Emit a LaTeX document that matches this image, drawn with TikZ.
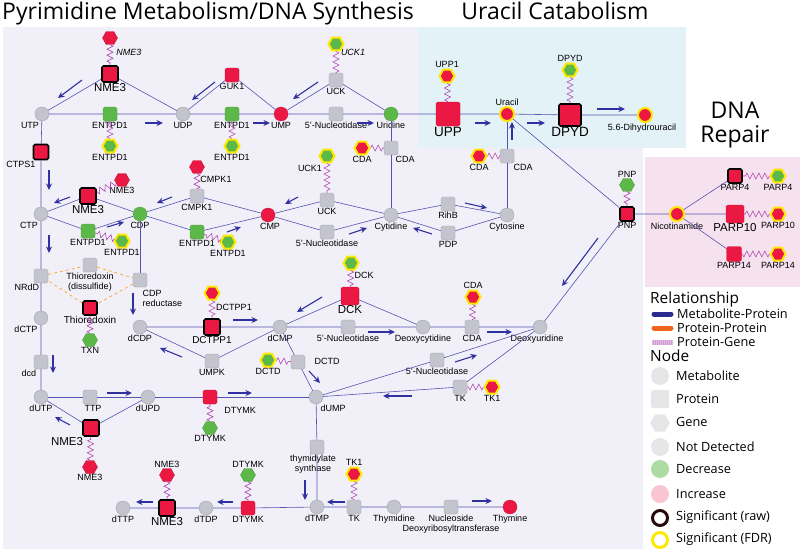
\documentclass[tikz,border=0pt]{standalone}
\usepackage{fontspec}
\setmainfont{Liberation Sans}
\newfontfamily\headfont{Open Sans}
\usetikzlibrary{shapes.geometric,arrows.meta,decorations.pathmorphing}
\definecolor{hitred}{RGB}{234,24,66}
\definecolor{lowgreen}{RGB}{92,184,72}
\definecolor{nagray}{RGB}{196,196,206}
\definecolor{edgeblue}{RGB}{84,84,178}
\definecolor{arrowblue}{RGB}{48,48,160}
\definecolor{genepink}{RGB}{176,70,176}
\definecolor{fdryellow}{RGB}{255,232,0}
\definecolor{bgpyr}{RGB}{241,240,248}
\definecolor{bgura}{RGB}{226,242,246}
\definecolor{bgrep}{RGB}{246,226,238}
\definecolor{legorange}{RGB}{240,100,30}
\definecolor{legfill}{RGB}{230,230,232}
\newcommand\lblsize{\fontsize{9}{10}\selectfont}
\tikzset{
  lbl/.style={font=\lblsize, inner sep=0.5pt, align=center},
  midlbl/.style={font=\fontsize{10}{11}\selectfont, inner sep=0.5pt},
  biglbl/.style={font=\fontsize{11.5}{12}\selectfont, inner sep=0.5pt},
  hugelbl/.style={font=\fontsize{13.5}{14}\selectfont, inner sep=0.5pt},
  ttl/.style={font=\headfont\fontsize{23}{25}\selectfont, inner sep=0pt},
  legh/.style={font=\headfont\fontsize{15.4}{16}\selectfont, inner sep=0pt},
  legt/.style={font=\headfont\fontsize{12.7}{13}\selectfont, inner sep=0pt},
  met/.style={circle, minimum size=14pt, inner sep=0pt, fill=nagray, draw=nagray!80!black, line width=0.3pt, label distance=3pt},
  prot/.style={rectangle, rounded corners=1.5pt, minimum size=14pt, inner sep=0pt, fill=nagray, draw=nagray!80!black, line width=0.3pt, label distance=3pt},
  gene/.style={regular polygon, regular polygon sides=6, minimum size=15pt, inner sep=0pt, fill=nagray, draw=none, label distance=2pt},
  hi/.style={fill=hitred, draw=hitred!85!black},
  lo/.style={fill=lowgreen, draw=lowgreen!85!black},
  raw/.style={draw=black, line width=1.6pt},
  fdr/.style={draw=fdryellow, line width=2pt},
  link/.style={draw=edgeblue, line width=0.6pt},
  flow/.style={draw=arrowblue, line width=1.1pt, -{Stealth[length=6.5pt,width=6pt]}},
  coded/.style={draw=genepink, line width=0.6pt, decorate, decoration={zigzag, segment length=6pt, amplitude=3pt}},
  pair/.style={draw=orange!80!yellow, dashed, line width=0.6pt},
}

\begin{document}
\begin{tikzpicture}[x=1pt,y=-1pt]
\useasboundingbox (0,0) rectangle (800,552);
\fill[bgpyr] (3,27) -- (418,27) -- (418,148) -- (643,148) -- (643,549) -- (3,549) -- cycle;
\fill[bgura] (418,27) rectangle (686,148);
\fill[bgrep] (645,157) rectangle (800,287);

\node[ttl,anchor=base west] (ttlpyr) at (2,19) {Pyrimidine Metabolism/DNA Synthesis};
\node[ttl,anchor=base] (ttlura) at (555,19) {Uracil Catabolism};
\node[ttl,anchor=base] (ttlrep) at (735,118) {DNA};
\node[ttl,anchor=base] (ttlrepb) at (735,142) {Repair};

\node[met,label={[lbl,xshift=-12pt]below:UTP}] (utp) at (42,114) {};
\node[prot,hi,raw,minimum size=16pt,label={[biglbl]below:NME3}] (nmeA) at (110,74) {};
\node[gene,hi] (gnmeA) at (110,38) {};
\node[lbl,font=\lblsize\itshape] (tnmeA) at (129,52) {NME3};
\node[prot,lo,label={[lbl]below:ENTPD1}] (entA) at (110,114) {};
\node[gene,lo,fdr,label={[lbl]below:ENTPD1}] (gentA) at (110,146) {};
\node[met,label={[lbl]below:UDP}] (udp) at (183,114) {};
\node[prot,hi,label={[lbl]below:GUK1}] (guk) at (232,75) {};
\node[prot,lo,label={[lbl]below:ENTPD1}] (entB) at (232,114) {};
\node[gene,lo,fdr,label={[lbl]below:ENTPD1}] (gentB) at (232,146) {};
\node[met,hi,label={[lbl]below:UMP}] (ump) at (281,114) {};
\node[prot,label={[lbl]below:UCK}] (uckA) at (336,80) {};
\node[gene,lo,fdr] (guckA) at (336,44) {};
\node[lbl,font=\lblsize\itshape] (tuckA) at (353,52) {UCK1};
\node[prot,label={[lbl]below:5'-Nucleotidase}] (ntA) at (336,114) {};
\node[met,lo,label={[lbl]below:Uridine}] (urd) at (391,114) {};
\node[prot,hi,minimum size=24pt,label={[hugelbl]below:UPP}] (upp) at (448,114) {};
\node[gene,hi,fdr,label={[lbl]above:UPP1}] (gupp) at (447,76) {};
\node[met,hi,fdr,label={[lbl]above:Uracil}] (ura) at (507,114) {};
\node[prot,hi,raw,minimum size=22pt,label={[hugelbl]below:DPYD}] (dpyd) at (570,115) {};
\node[gene,lo,fdr,label={[lbl]above:DPYD}] (gdpyd) at (570,70) {};
\node[met,hi,fdr,label={[lbl,xshift=-3pt]below:5.6-Dihydrouracil}] (dhu) at (645,115) {};

\node[prot,label={[lbl,xshift=14pt]below:CDA}] (cdaA) at (391,148) {};
\node[gene,hi,fdr,label={[lbl]below:CDA}] (gcdaA) at (362,148) {};
\node[prot,label={[lbl,xshift=16pt]below:CDA}] (cdaB) at (507,156) {};
\node[gene,hi,fdr,label={[lbl]below:CDA}] (gcdaB) at (479,156) {};
\node[met,hi,label={[lbl,xshift=2pt]below:CMP}] (cmp) at (268,215) {};
\node[prot,label={[lbl]below:UCK}] (uckB) at (327,200) {};
\node[gene,lo,fdr] (guckB) at (327,156) {};
\node[lbl] (tuckB) at (310,168) {UCK1};
\node[prot,label={[lbl]below:5'-Nucleotidase}] (ntB) at (327,232) {};
\node[met,label={[lbl]below:Cytidine}] (cyd) at (391,215) {};
\node[prot,label={[lbl]below:RihB}] (rihb) at (448,204) {};
\node[prot,label={[lbl]below:PDP}] (pdp) at (448,233) {};
\node[met,label={[lbl]below:Cytosine}] (cyt) at (507,215) {};

\node[prot,hi,raw,minimum size=15pt,label={[lbl,xshift=-20pt]below:CTPS1}] (ctps) at (41,152) {};
\node[met,label={[lbl,xshift=-12pt]below:CTP}] (ctp) at (41,214) {};
\node[prot,hi,raw,minimum size=16pt,label={[biglbl]below:NME3}] (nmeB) at (88,196) {};
\node[gene,hi,label={[lbl]below:NME3}] (gnmeB) at (122,180) {};
\node[prot,lo,label={[lbl]below:ENTPD1}] (entC) at (88,231) {};
\node[gene,lo,fdr,label={[lbl]below:ENTPD1}] (gentC) at (122,241) {};
\node[met,lo,label={[lbl]below:CDP}] (cdp) at (140,214) {};
\node[prot,label={[lbl]below:CMPK1}] (cmpk) at (197,196) {};
\node[gene,hi] (gcmpk) at (197,167) {};
\node[lbl] (tcmpk) at (216,179) {CMPK1};
\node[prot,lo,label={[lbl]below:ENTPD1}] (entD) at (197,232) {};
\node[gene,lo,fdr,label={[lbl]below:ENTPD1}] (gentD) at (228,242) {};

\node[prot,label={[lbl,xshift=-14pt]below:NRdD}] (nrdd) at (41,276) {};
\node[prot,label={[lbl]below:Thioredoxin\\(dissulfide)}] (trxd) at (90,265) {};
\node[prot] (cdpr) at (140,280) {};
\node[lbl,anchor=north west,align=left] (tcdpr) at (142,290) {CDP\\reductase};
\node[prot,hi,raw,label={[midlbl]below:Thioredoxin}] (trx) at (90,308) {};
\node[gene,lo,label={[lbl]below:TXN}] (gtrx) at (90,340) {};
\node[met,label={[lbl,xshift=-15pt]below:dCTP}] (dctp) at (41,318) {};
\node[prot,label={[lbl,xshift=-12pt]below:dcd}] (dcd) at (41,362) {};
\node[met,label={[lbl]below:dUTP}] (dutp) at (41,397) {};
\node[prot,label={[lbl,xshift=3pt]below:TTP}] (ttp) at (90,397) {};
\node[met,label={[lbl]below:dUPD}] (dupd) at (148,397) {};
\node[prot,hi,raw,minimum size=16pt,label={[biglbl,xshift=-24pt]below:NME3}] (nmeC) at (91,428) {};
\node[gene,hi,label={[lbl]below:NME3}] (gnmeC) at (90,467) {};
\node[met,label={[lbl]below:dCDP}] (dcdp) at (140,327) {};
\node[prot,hi,raw,minimum size=16pt,label={[midlbl]below:DCTPP1}] (dctpp) at (212,327) {};
\node[gene,hi,fdr] (gdctpp) at (212,293) {};
\node[lbl] (tdctpp) at (234,307) {DCTPP1};
\node[prot,label={[lbl]below:UMPK}] (umpk) at (212,361) {};
\node[met,label={[lbl]below:dCMP}] (dcmp) at (280,327) {};
\node[prot,hi,minimum size=18pt,label={[biglbl]below:DCK}] (dck) at (350,296) {};
\node[gene,lo,fdr] (gdck) at (351,263) {};
\node[lbl] (tdck) at (364,275) {DCK};
\node[prot,label={[lbl]below:5'-Nucleotidase}] (ntC) at (348,327) {};
\node[met,label={[lbl]below:Deoxycytidine}] (dcyd) at (423,327) {};
\node[prot,label={[lbl]below:CDA}] (cdaC) at (472,327) {};
\node[gene,hi,fdr,label={[lbl]above:CDA}] (gcdaC) at (473,297) {};
\node[met,label={[lbl,xshift=-3pt]below:Deoxyuridine}] (dud) at (540,327) {};
\node[prot] (dctd) at (298,362) {};
\node[lbl] (tdctd) at (327,361) {DCTD};
\node[gene,lo,fdr,label={[lbl]below:DCTD}] (gdctd) at (268,360) {};
\node[prot,hi] (dtymkA) at (210,397) {};
\node[lbl] (tdtymkA) at (240,410) {DTYMK};
\node[gene,lo,label={[lbl]below:DTYMK}] (gdtymkA) at (210,428) {};
\node[met,label={[lbl,xshift=17pt]below:dUMP}] (dump) at (316,397) {};
\node[prot,label={[lbl]below:5'-Nucleotidase}] (ntD) at (437,360) {};
\node[prot,label={[lbl]below:TK}] (tkA) at (460,387) {};
\node[gene,hi,fdr,label={[lbl]below:TK1}] (gtkA) at (492,387) {};
\node[prot,label={[lbl,xshift=-4pt]below:thymidylate\\synthase}] (tms) at (317,447) {};
\node[met,label={[lbl]below:dTMP}] (dtmp) at (317,507) {};
\node[prot,label={[lbl]below:TK}] (tkB) at (354,507) {};
\node[gene,hi,fdr,label={[lbl]above:TK1}] (gtkB) at (354,474) {};
\node[met,label={[lbl]below:Thymidine}] (thd) at (394,507) {};
\node[prot,label={[lbl]below:Nucleoside\\Deoxyribosyltransferase}] (ndt) at (451,507) {};
\node[met,hi,label={[lbl]below:Thymine}] (thy) at (510,507) {};
\node[met,label={[lbl]below:dTTP}] (dttp) at (123,508) {};
\node[prot,hi,raw,minimum size=16pt,label={[biglbl]below:NME3}] (nmeD) at (167,508) {};
\node[gene,hi,label={[lbl]above:NME3}] (gnmeD) at (167,475) {};
\node[met,label={[lbl]below:dTDP}] (dtdp) at (206,508) {};
\node[prot,hi,label={[lbl]below:DTYMK}] (dtymkB) at (248,508) {};
\node[gene,lo,label={[lbl]above:DTYMK}] (gdtymkB) at (248,475) {};

\node[prot,hi,raw,label={[lbl]below:PNP}] (pnp) at (627,214) {};
\node[gene,lo,label={[lbl]above:PNP}] (gpnp) at (627,185) {};
\node[met,hi,fdr,label={[lbl]below:Nicotinamide}] (nam) at (677,214) {};
\node[prot,hi,raw,label={[lbl]below:PARP4}] (parpA) at (735,176) {};
\node[gene,lo,fdr,label={[lbl]below:PARP4}] (gparpA) at (778,176) {};
\node[prot,hi,minimum size=18pt,label={[biglbl]below:PARP10}] (parpB) at (735,214) {};
\node[gene,hi,fdr,label={[lbl]below:PARP10}] (gparpB) at (778,214) {};
\node[prot,hi,minimum size=15pt,label={[lbl]below:PARP14}] (parpC) at (734,254) {};
\node[gene,hi,fdr,label={[lbl]below:PARP14}] (gparpC) at (778,254) {};

\draw[link] (utp) -- (entA) -- (udp) -- (entB) -- (ump) -- (ntA) -- (urd) -- (upp) -- (ura) -- (dpyd) -- (dhu);
\draw[link] (utp) -- (nmeA) -- (udp) -- (guk) -- (ump) -- (uckA) -- (urd);
\draw[link] (utp) -- (ctps) -- (ctp) -- (nrdd) -- (dctp) -- (dcd) -- (dutp);
\draw[link] (ctp) -- (nmeB) -- (cdp) -- (cmpk) -- (cmp) -- (uckB) -- (cyd) -- (rihb) -- (cyt);
\draw[link] (ctp) -- (entC) -- (cdp) -- (entD) -- (cmp) -- (ntB) -- (cyd) -- (pdp) -- (cyt);
\draw[link] (urd) -- (cdaA) -- (cyd);
\draw[link] (ura) -- (cdaB) -- (cyt);
\draw[link] (cdp) -- (cdpr);
\draw[link] (ura) -- (pnp) -- (nam) -- (parpB);
\draw[link] (nam) -- (parpA);
\draw[link] (nam) -- (parpC);
\draw[link] (dud) -- (pnp);
\draw[link] (dcdp) -- (dctpp) -- (dcmp) -- (dck) -- (dcyd);
\draw[link] (dcdp) -- (umpk) -- (dcmp) -- (ntC) -- (dcyd) -- (cdaC) -- (dud);
\draw[link] (dcmp) -- (dctd) -- (dump);
\draw[link] (dutp) -- (ttp) -- (dupd) -- (dtymkA) -- (dump);
\draw[link] (dutp) -- (nmeC) -- (dupd);
\draw[link] (dump) -- (ntD) -- (dud);
\draw[link] (dump) -- (tkA) -- (dud);
\draw[link] (dump) -- (tms) -- (dtmp) -- (tkB) -- (thd) -- (ndt) -- (thy);
\draw[link] (dttp) -- (nmeD) -- (dtdp) -- (dtymkB) -- (dtmp);
\draw[pair] (nrdd) -- (trxd) -- (cdpr) -- (trx) -- (nrdd);

\draw[coded] (gnmeA) -- (nmeA);
\draw[coded] (gentA) -- (entA);
\draw[coded] (gentB) -- (entB);
\draw[coded] (guckA) -- (uckA);
\draw[coded] (gupp) -- (upp);
\draw[coded] (gdpyd) -- (dpyd);
\draw[coded] (gcdaA) -- (cdaA);
\draw[coded] (gcdaB) -- (cdaB);
\draw[coded] (guckB) -- (uckB);
\draw[coded] (gnmeB) -- (nmeB);
\draw[coded] (gentC) -- (entC);
\draw[coded] (gcmpk) -- (cmpk);
\draw[coded] (gentD) -- (entD);
\draw[coded] (gtrx) -- (trx);
\draw[coded] (gdctpp) -- (dctpp);
\draw[coded] (gdck) -- (dck);
\draw[coded] (gcdaC) -- (cdaC);
\draw[coded] (gdctd) -- (dctd);
\draw[coded] (gdtymkA) -- (dtymkA);
\draw[coded] (gnmeC) -- (nmeC);
\draw[coded] (gtkA) -- (tkA);
\draw[coded] (gtkB) -- (tkB);
\draw[coded] (gnmeD) -- (nmeD);
\draw[coded] (gdtymkB) -- (dtymkB);
\draw[coded] (gpnp) -- (pnp);
\draw[coded] (gparpA) -- (parpA);
\draw[coded] (gparpB) -- (parpB);
\draw[coded] (gparpC) -- (parpC);

\draw[flow] (82,80) -- (58,98);
\draw[flow] (145,123) -- (163,123);
\draw[flow] (215,82) -- (192,100);
\draw[flow] (253,123) -- (270,123);
\draw[flow] (318,82) -- (293,99);
\draw[flow] (357,123) -- (374,123);
\draw[flow] (475,123) -- (491,123);
\draw[flow] (527,123) -- (545,123);
\draw[flow] (512,140) -- (512,122);
\draw[flow] (597,109) -- (625,109);
\draw[flow] (49,170) -- (49,190);
\draw[flow] (70,197) -- (54,203);
\draw[flow] (107,227) -- (124,222);
\draw[flow] (172,197) -- (157,203);
\draw[flow] (227,232) -- (241,227);
\draw[flow] (298,197) -- (285,204);
\draw[flow] (349,234) -- (367,228);
\draw[flow] (465,203) -- (487,208);
\draw[flow] (432,234) -- (413,228);
\draw[flow] (49,235) -- (49,253);
\draw[flow] (133,293) -- (133,315);
\draw[flow] (53,355) -- (53,373);
\draw[flow] (107,393) -- (132,393);
\draw[flow] (233,320) -- (258,320);
\draw[flow] (182,357) -- (160,348);
\draw[flow] (70,425) -- (55,417);
\draw[flow] (228,393) -- (252,393);
\draw[flow] (322,297) -- (297,312);
\draw[flow] (368,332) -- (395,332);
\draw[flow] (487,332) -- (512,332);
\draw[flow] (309,371) -- (320,383);
\draw[flow] (455,362) -- (477,355);
\draw[flow] (412,396) -- (383,396);
\draw[flow] (305,480) -- (305,500);
\draw[flow] (345,502) -- (327,502);
\draw[flow] (472,501) -- (492,501);
\draw[flow] (153,502) -- (136,502);
\draw[flow] (233,502) -- (217,502);
\draw[flow] (598,238) -- (562,286);

\node[legh,anchor=west] (legrel) at (650,299) {Relationship};
\draw[line width=5pt,line cap=round,arrowblue!90!black] (654,314) -- (671,314);
\node[legt,anchor=west] (legmp) at (677,314) {Metabolite-Protein};
\draw[line width=5pt,line cap=round,legorange] (654,328) -- (671,328);
\node[legt,anchor=west] (legpp) at (677,328) {Protein-Protein};
\draw[line width=5pt,genepink!55] (652,342) -- (673,342);
\draw[line width=5pt,white,opacity=.35,dash pattern=on 1pt off 1pt] (652,342) -- (673,342);
\node[legt,anchor=west] (legpg) at (677,342) {Protein-Gene};
\node[legh,anchor=west] (legnode) at (650,356) {Node};
\node[circle,fill=legfill,minimum size=18pt,inner sep=0pt] (legmet) at (660,376) {};
\node[legt,anchor=west] (legmett) at (676,376) {Metabolite};
\node[rectangle,rounded corners=1.5pt,fill=legfill,minimum size=18pt,inner sep=0pt] (legprot) at (660,399) {};
\node[legt,anchor=west] (legprott) at (676,399) {Protein};
\node[regular polygon,regular polygon sides=6,fill=legfill,minimum size=20pt,inner sep=0pt] (leggene) at (660,423) {};
\node[legt,anchor=west] (leggenet) at (676,422) {Gene};
\node[circle,fill=legfill,minimum size=18pt,inner sep=0pt] (legnd) at (660,447) {};
\node[legt,anchor=west] (legndt) at (676,447) {Not Detected};
\node[circle,fill=lowgreen!50,minimum size=18pt,inner sep=0pt] (legdec) at (660,469) {};
\node[legt,anchor=west] (legdect) at (676,469) {Decrease};
\node[circle,fill=hitred!25,minimum size=18pt,inner sep=0pt] (leginc) at (660,494) {};
\node[legt,anchor=west] (leginct) at (676,494) {Increase};
\node[circle,draw={rgb,255:red,40;green,12;blue,12},line width=3pt,fill=white,minimum size=15pt,inner sep=0pt] (legraw) at (660,518) {};
\node[legt,anchor=west] (legrawt) at (676,517) {Significant (raw)};
\node[circle,draw=fdryellow,line width=3pt,fill=white,minimum size=15pt,inner sep=0pt] (legfdr) at (660,540) {};
\node[legt,anchor=west] (legfdrt) at (676,539) {Significant (FDR)};
\end{tikzpicture}
\end{document}
